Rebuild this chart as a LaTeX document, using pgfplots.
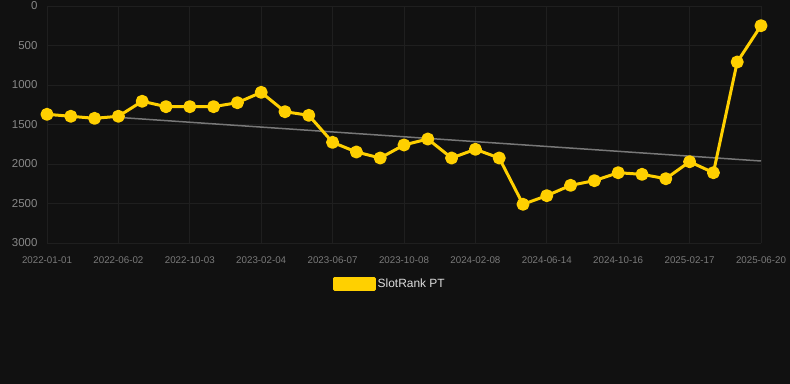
\documentclass[border=0pt]{standalone}
\usepackage{fontspec}
\setmainfont{Liberation Sans}
\usepackage{pgfplots}
\pgfplotsset{compat=1.18}
\definecolor{bg}{HTML}{111111}
\definecolor{gridc}{HTML}{1F1F1F}
\definecolor{gold}{HTML}{FFD000}
\definecolor{trend}{HTML}{777777}
\definecolor{ylab}{HTML}{888888}
\definecolor{xlab}{HTML}{7A7A7A}
\definecolor{legtext}{HTML}{DDDDDD}
\begin{document}
\begin{tikzpicture}
\fill[bg] (0bp,0bp) rectangle (790bp,384bp);
\useasboundingbox (0bp,0bp) rectangle (790bp,384bp);
\begin{axis}[
  at={(47bp,141bp)}, anchor=south west,
  scale only axis, width=714bp, height=237bp,
  xmin=0, xmax=30, ymin=0, ymax=3000, y dir=reverse,
  xtick={0,3,...,30},
  xticklabels={2022-01-01,2022-06-02,2022-10-03,2023-02-04,2023-06-07,2023-10-08,2024-02-08,2024-06-14,2024-10-16,2025-02-17,2025-06-20},
  ytick={0,500,...,3000},
  grid=major, grid style={draw=gridc, line width=0.8bp},
  axis line style={draw=none},
  major tick length=0pt,
  /pgf/number format/1000 sep={},
  /pgf/number format/assume math mode=true,
  yticklabel style={font=\fontsize{11.5}{12}\selectfont, text=ylab, xshift=-6bp},
  xticklabel style={font=\fontsize{9.8}{11}\selectfont, text=xlab, yshift=-10bp},
  legend style={at={(0.48,-0.173)}, anchor=center, draw=none, fill=none,
    text=legtext, font=\fontsize{12}{14}\selectfont},
  legend image code/.code={\fill[gold] (0bp,-5.5bp) rectangle (40bp,5.5bp);},
]
\addplot[trend, line width=1.5bp, forget plot] coordinates {(3,1410) (30,1962)};
\addplot[gold, line width=3bp, line join=round, mark=*, mark size=5bp, mark options={fill=gold, draw=none}] coordinates {
(0,1371)(1,1396)(2,1422)(3,1396)(4,1206)(5,1274)(6,1274)(7,1274)(8,1224)(9,1093)
(10,1338)(11,1384)(12,1726)(13,1848)(14,1924)(15,1759)(16,1684)(17,1924)(18,1814)(19,1924)
(20,2510)(21,2401)(22,2270)(23,2211)(24,2110)(25,2131)(26,2186)(27,1971)(28,2110)(29,709)(30,249)};
\addlegendentry{SlotRank PT}
\end{axis}
\end{tikzpicture}
\end{document}
